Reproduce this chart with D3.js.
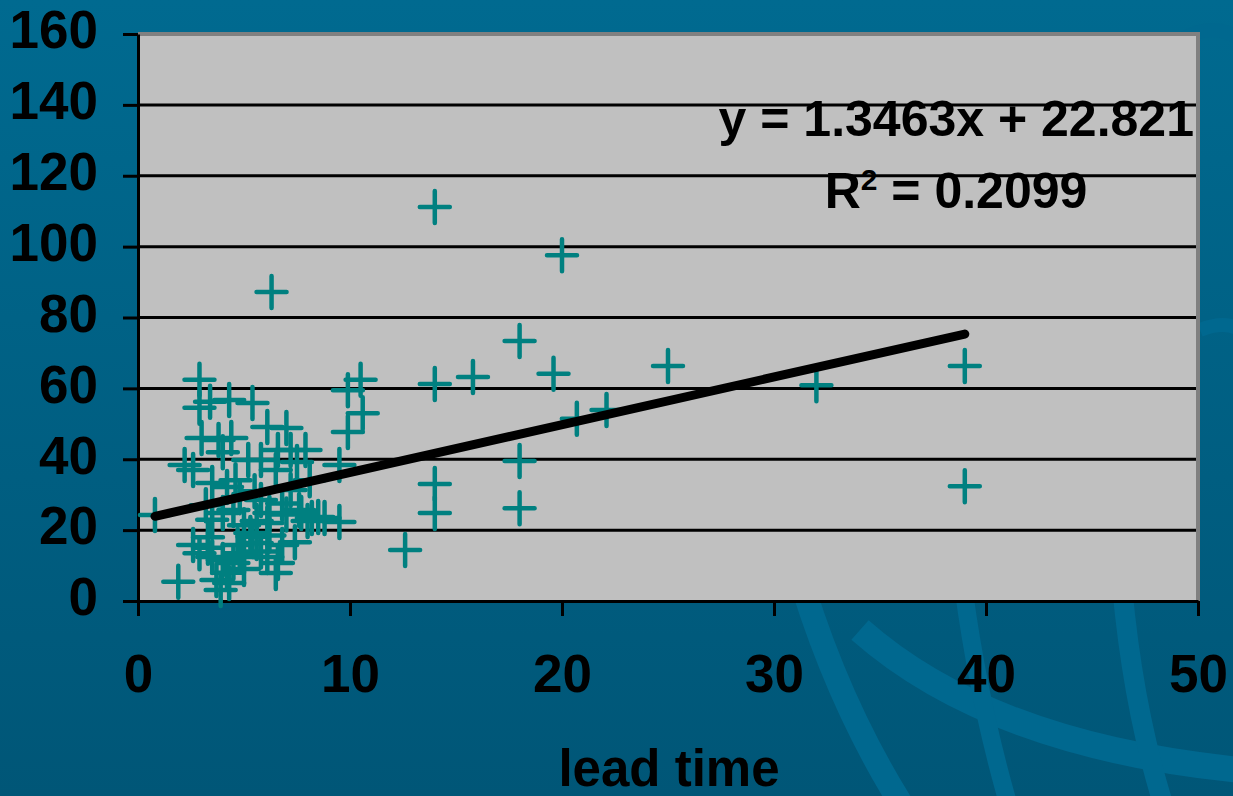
<!DOCTYPE html>
<html>
<head>
<meta charset="utf-8">
<script src="https://cdn.jsdelivr.net/npm/d3@7"></script>
<style>
html,body{margin:0;padding:0;background:#00628a;}
svg{display:block;}
text{font-family:"Liberation Sans",Arial,sans-serif;font-weight:bold;fill:#000;}
</style>
</head>
<body>
<svg id="chart" width="1233" height="796"></svg>
<script>
// ---- data ----
const leadTime = [0.8,1.9,2.9,2.9,3.4,4.3,5.4,6.1,7.0,3.0,3.8,4.4,4.0,5.2,5.8,6.6,7.2,7.9,7.5,6.5,
  4.6,2.6,2.2,3.5,4.2,3.5,4.0,4.5,6.2,7.6,7.4,2.6,3.3,3.5,4.0,4.5,5.0,5.6,6.1,6.6,
  5.3,6.1,3.7,4.3,6.5,3.9,7.7,8.2,8.8,9.5,9.5,9.9,10.6,9.9,10.5,8.1,7.2,5.4,5.0,4.7,
  5.8,4.8,6.8,12.6,14.0,6.3,20.0,18.0,19.6,15.8,14.0,14.0,14.0,18.0,18.0,20.7,22.1,25.0,32.0,39.0,
  39.0,8.5,2.9,5.6,7.0,8.0,3.3,4.8,5.8,6.2,4.2,5.0,3.2,5.5,6.8];
const yValues = [24.3,5.4,62.4,54.5,56.2,56.7,55.9,49.1,48.8,46.0,45.4,46.0,42.0,39.8,39.8,42.6,42.6,42.6,39.2,37.0,
  34.1,37.0,38.4,33.3,32.2,22.9,24.8,25.7,24.8,25.7,16.6,15.8,15.0,12.4,11.6,10.7,12.4,16.4,12.4,10.7,
  19.2,22.0,5.9,5.1,7.9,3.1,24.8,23.4,23.4,22.3,38.4,47.7,53.0,59.5,62.4,34.1,31.3,18.1,21.4,15.8,
  28.5,29.3,15.8,14.4,111.2,87.2,97.6,73.4,64.1,63.2,61.2,33.0,24.8,39.5,26.2,51.4,53.9,66.3,60.9,66.3,
  32.4,23.7,13.5,22.6,24.4,22.6,18.0,13.5,14.0,18.5,8.0,9.0,27.0,31.0,27.5];
const trendSlope = 1.3463;
const trendIntercept = 22.821;
const trendRange = [0.8, 39.0];
const xTicks = [0,10,20,30,40,50];
const yTicks = [0,20,40,60,80,100,120,140,160];
const equationLabel = "y = 1.3463x + 22.821";
const r2Value = "0.2099";
const xTitle = "lead time";

// ---- layout ----
const svg = d3.select("#chart");
const W = 1233, H = 796;
const plotLeft = 138, plotRight = 1198, plotTop = 34, plotBottom = 601;
const x = d3.scaleLinear().domain([0,50]).range([plotLeft,plotRight]);
const y = d3.scaleLinear().domain([0,160]).range([plotBottom,plotTop]);

// background
const defs = svg.append("defs");
const g1 = defs.append("linearGradient").attr("id","bg").attr("x1",0).attr("y1",0).attr("x2",0).attr("y2",1);
g1.append("stop").attr("offset","0%").attr("stop-color","#006a90");
g1.append("stop").attr("offset","100%").attr("stop-color","#005677");
svg.append("rect").attr("width",W).attr("height",H).attr("fill","url(#bg)");

// decorative globe arcs (background art)
const deco = svg.append("g").attr("fill","none").attr("stroke","#00688f").attr("stroke-width",24);
deco.append("path").attr("d","M795,560 Q835,700 905,810");
deco.append("path").attr("d","M860,630 Q990,745 1240,770").attr("stroke-width",26);
deco.append("path").attr("d","M960,560 Q975,690 1010,810").attr("stroke-width",18);
deco.append("path").attr("d","M1120,560 Q1130,700 1165,810").attr("stroke-width",20);
deco.append("path").attr("d","M1180,40 Q1215,20 1240,40").attr("stroke-width",14);
deco.append("path").attr("d","M1200,330 Q1225,320 1240,330").attr("stroke-width",14);

// plot area
svg.append("rect").attr("x",plotLeft).attr("y",plotTop).attr("width",plotRight-plotLeft).attr("height",plotBottom-plotTop).attr("fill","#c0c0c0");

// gridlines
svg.append("g").selectAll("line").data(yTicks.filter(v => v>0 && v<160)).join("line")
  .attr("x1",plotLeft).attr("x2",plotRight).attr("y1",d=>y(d)).attr("y2",d=>y(d))
  .attr("stroke","#000").attr("stroke-width",3);

// plot border top/right
svg.append("path").attr("d",`M${plotLeft},${plotTop}H${plotRight}V${plotBottom}`)
  .attr("fill","none").attr("stroke","#808080").attr("stroke-width",4);

// axes
const yAxis = d3.axisLeft(y).tickValues(yTicks).tickSize(15).tickSizeOuter(0).tickPadding(25);
const yg = svg.append("g").attr("transform",`translate(${plotLeft},0)`).call(yAxis);
const xAxis = d3.axisBottom(x).tickValues(xTicks).tickSize(15).tickSizeOuter(0).tickPadding(38);
const xg = svg.append("g").attr("transform",`translate(0,${plotBottom})`).call(xAxis);
[yg,xg].forEach(g=>{
  g.select(".domain").attr("stroke","#000").attr("stroke-width",3);
  g.selectAll(".tick line").attr("stroke","#000").attr("stroke-width",3);
  g.selectAll(".tick text").attr("font-size",53).attr("font-family","Liberation Sans, Arial, sans-serif")
    .attr("font-weight","bold").attr("fill","#000");
});
yg.selectAll(".tick text").attr("dy","0.26em");

// markers
const pts = leadTime.map((v,i)=>({x:v,y:yValues[i]}));
svg.append("g").selectAll("path").data(pts).join("path")
  .attr("transform",d=>`translate(${x(d.x)},${y(d.y)})`)
  .attr("d","M-15,0H15M0,-16V16")
  .attr("stroke","#008080").attr("stroke-width",4.5).attr("stroke-linecap","round").attr("fill","none");

// trend line
const trendPts = trendRange.map(v=>({x:v,y:trendSlope*v+trendIntercept}));
svg.append("path").datum(trendPts)
  .attr("d",d3.line().x(d=>x(d.x)).y(d=>y(d.y)))
  .attr("stroke","#000").attr("stroke-width",9).attr("stroke-linecap","round").attr("fill","none");

// equation labels
svg.append("text").attr("x",1194).attr("y",136).attr("text-anchor","end").attr("font-size",50).text(equationLabel);
const r2 = svg.append("text").attr("x",956).attr("y",208).attr("text-anchor","middle").attr("font-size",50);
r2.append("tspan").text("R");
r2.append("tspan").attr("font-size",30).attr("dy",-18).text("2");
r2.append("tspan").attr("dy",18).text(" = " + r2Value);

// axis title
svg.append("text").attr("x",669).attr("y",786).attr("text-anchor","middle").attr("font-size",51).text(xTitle);
</script>
</body>
</html>
